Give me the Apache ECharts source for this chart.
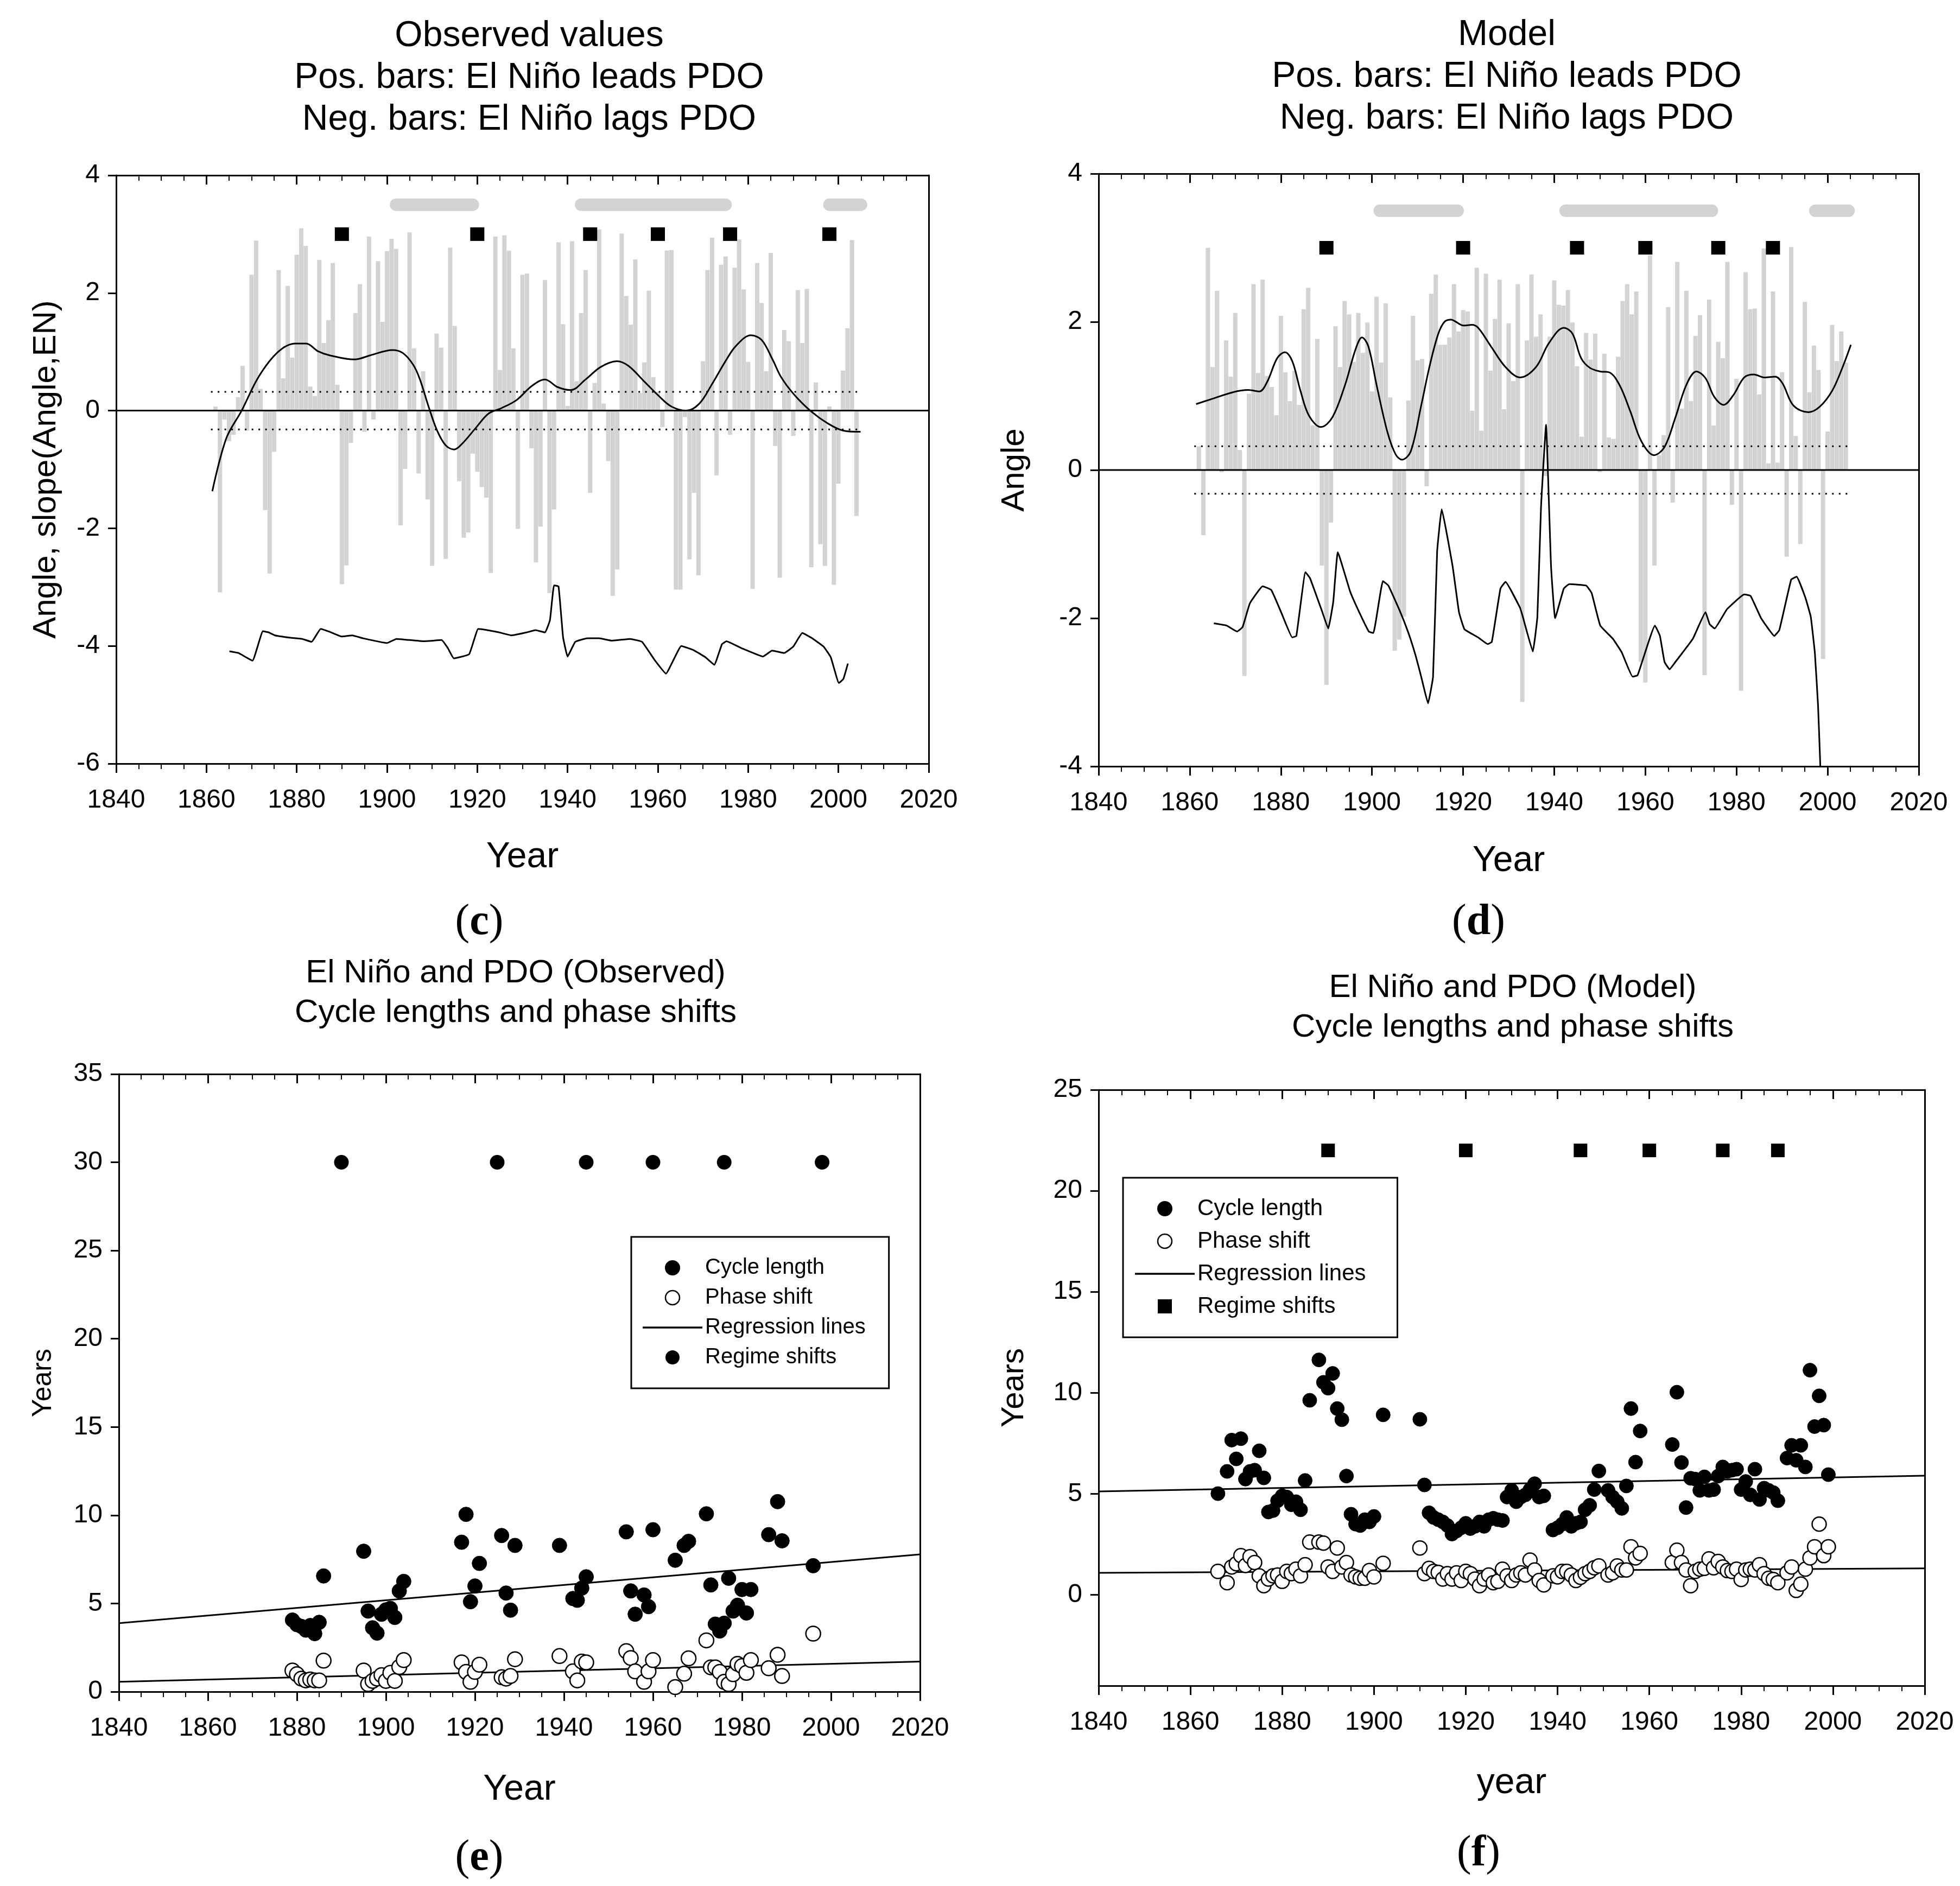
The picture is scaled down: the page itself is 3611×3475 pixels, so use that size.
<!DOCTYPE html>
<html>
<head>
<meta charset="utf-8">
<script src="https://cdn.jsdelivr.net/npm/echarts@6/dist/echarts.min.js"></script>
<style>
html, body { margin: 0; padding: 0; background: #fff; }
#main { width: 3611px; height: 3475px; }
</style>
</head>
<body>
<div id="main"></div>
<script>
// El Nino / PDO figure, panels (c) (d) (e) (f)
var FONT = 'Liberation Sans, Arial, sans-serif';
var SERIF = 'Liberation Serif, Times New Roman, serif';
var GRAY = '#d3d3d3';

// ---------- (c) observed ----------
var cBarStart = 1862;
var cBars = [0.07,-3.09,-0.15,-0.52,-0.41,0.23,0.76,-0.34,2.31,2.89,
    0.37,-1.69,-2.77,-0.70,2.39,0.55,2.12,0.90,2.65,3.10,
    2.80,0.41,0.25,2.56,1.15,1.54,2.51,0.44,-2.95,-2.63,
    -0.55,1.66,2.15,-0.36,2.96,-0.15,2.54,1.51,2.71,2.92,
    2.75,-1.95,-0.99,3.03,1.06,-1.07,0.67,-1.51,-2.64,1.31,
    1.07,-2.52,2.77,1.44,-1.20,-2.16,-2.07,-0.73,-1.04,-1.30,
    -1.48,-2.76,2.96,0.69,2.98,2.72,1.06,-2.01,2.31,2.33,
    -0.64,-2.58,-1.97,2.22,-3.10,-1.68,2.86,1.47,0.08,2.88,
    0.50,1.66,2.39,-1.40,0.47,3.08,0.12,-0.86,-3.15,-2.70,
    3.01,1.95,1.46,2.57,0.30,0.82,2.04,0.57,0.32,-0.28,
    2.72,2.73,-3.04,-3.04,-0.11,-2.53,-1.40,-2.80,0.84,2.39,
    2.94,-1.10,2.48,2.62,-0.41,2.43,2.91,2.06,0.83,-3.03,
    2.51,1.83,0.67,2.68,-0.60,-2.84,1.37,1.18,-0.43,2.05,
    1.15,2.07,-2.66,0.48,-2.27,-2.64,0.07,-2.96,-1.24,0.68,
    1.40,2.90,-1.79];
var cSmoothYears = [1861.3,1864.4,1867.8,1871.6,1875.9,1879.7,1882.1,1884.7,1887.3,1892.8,
    1896.3,1901.2,1903.5,1905.8,1907.3,1909.2,1911.1,1913,1914.9,1916.8,
    1919.6,1922.5,1925.3,1928.7,1932.1,1935,1937.8,1940.7,1944,1947.3,
    1950.9,1953.5,1956.8,1960.2,1963,1966.3,1969.2,1972,1974.9,1977.3,
    1980.6,1983,1985.4,1987.3,1990.1,1993.9,1997.7,2001.1,2004.9];
var cSmoothValues = [-1.37,-0.47,0.0,0.58,1.0,1.14,1.14,1.01,0.94,0.87,
    0.94,1.03,0.98,0.78,0.53,0.07,-0.34,-0.59,-0.66,-0.55,
    -0.30,-0.05,0.04,0.18,0.42,0.53,0.40,0.35,0.53,0.74,
    0.84,0.76,0.51,0.25,0.07,0.0,0.12,0.45,0.83,1.10,
    1.28,1.20,0.87,0.57,0.28,-0.01,-0.22,-0.34,-0.36];
var cSlopeYears = [1865.1,1867.1,1870.2,1872.5,1873.8,1875.2,1878.6,1881.2,1883.3,1885.3,
    1887.3,1890,1892.3,1894.7,1900,1902.1,1908.1,1912.1,1913.5,1914.8,
    1918.2,1920.2,1922.2,1924.9,1927.6,1930.9,1932.9,1935,1936.1,1937,
    1938,1939,1940,1941.7,1944.4,1947,1949.8,1953.8,1956.5,1959.2,
    1961.8,1965.2,1967.9,1970.5,1972.5,1974.2,1975.2,1978.6,1983.3,1985.3,
    1988,1990,1992,1994,1996.7,1998.3,2000.1,2001.1,2002.1];
var cSlopeValues = [-4.09,-4.12,-4.25,-3.75,-3.77,-3.82,-3.86,-3.88,-3.93,-3.71,
    -3.76,-3.84,-3.82,-3.87,-3.95,-3.88,-3.92,-3.90,-4.04,-4.21,
    -4.14,-3.71,-3.73,-3.77,-3.82,-3.77,-3.73,-3.77,-3.56,-2.97,
    -2.99,-3.85,-4.18,-3.93,-3.87,-3.87,-3.91,-3.88,-3.93,-4.23,
    -4.47,-4.00,-4.07,-4.19,-4.32,-3.97,-3.92,-4.04,-4.18,-4.08,
    -4.12,-4.01,-3.78,-3.86,-4.01,-4.19,-4.63,-4.56,-4.30];
var cShiftYears = [1890, 1920, 1945, 1960, 1976, 1998];
var cBandStarts = [1902, 1943, 1998];
var cBandEnds = [1919, 1975, 2005];

// ---------- (d) model ----------
var dBarStart = 1862;
var dBars = [0.32,-0.88,3.00,1.39,2.42,-0.03,1.75,1.26,2.12,0.27,
    -2.78,1.03,2.51,1.31,2.57,1.27,1.12,0.74,2.08,1.32,
    0.93,1.34,0.88,2.17,2.46,0.60,1.77,-1.29,-2.90,-0.71,
    1.94,1.39,2.28,2.10,1.46,2.12,1.58,1.99,1.06,2.34,
    1.45,2.25,0.98,-2.44,-2.29,-1.98,0.94,2.08,1.48,1.50,
    -0.22,2.38,2.64,1.69,1.69,1.79,2.51,1.87,2.16,2.14,
    0.80,2.73,0.53,2.65,1.34,2.04,2.57,0.82,1.98,1.20,
    2.51,-3.13,1.75,2.64,1.80,2.10,-0.08,1.80,2.56,2.23,
    2.22,2.43,1.99,1.40,0.45,1.85,1.49,1.84,-0.03,1.57,
    0.44,0.42,1.53,2.28,2.51,2.10,2.41,-2.59,-2.87,2.90,
    -1.29,0.20,0.47,2.20,-0.44,2.81,0.83,2.42,0.93,1.81,
    2.09,-2.77,2.30,0.60,1.73,1.51,2.81,-0.47,1.23,-2.98,
    2.67,2.17,2.18,1.02,2.99,0.09,2.41,0.10,1.32,-1.17,
    3.01,0.46,-1.00,2.27,1.05,1.68,1.35,-2.55,0.52,1.96,
    1.47,1.87,1.45];
var dSmoothYears = [1861.4,1864.4,1869.5,1872.8,1875.3,1877,1879.2,1880.9,1882.5,1884.3,
    1886.2,1888.8,1891.3,1894.1,1896.4,1897.8,1899.2,1901,1903.4,1905.2,
    1906.6,1908.5,1910.8,1912.6,1914.5,1915.9,1917.3,1920.1,1921.9,1923.3,
    1926.1,1929.3,1932.5,1936,1938.8,1942.1,1944,1945.9,1947.8,1950.1,
    1952,1954.3,1956.7,1959.1,1961.9,1964.2,1966.6,1969,1971.2,1973.2,
    1975.1,1977.2,1979.3,1981.7,1983.8,1986.1,1988.5,1990.1,1992.5,1995.8,
    1998.2,2001,2003.3,2005.1];
var dSmoothValues = [0.89,0.95,1.05,1.08,1.06,1.19,1.51,1.59,1.47,1.07,
    0.73,0.58,0.71,1.15,1.63,1.79,1.67,1.15,0.51,0.21,
    0.14,0.25,0.87,1.39,1.83,2.00,2.03,1.95,1.96,1.92,
    1.67,1.39,1.25,1.39,1.71,1.92,1.84,1.51,1.38,1.33,
    1.32,1.15,0.79,0.39,0.20,0.31,0.71,1.15,1.33,1.24,
    0.99,0.88,1.01,1.25,1.29,1.25,1.26,1.17,0.87,0.78,
    0.85,1.07,1.39,1.69];
var dSlopeYears = [1865.3,1868.1,1870.4,1871.6,1873.2,1876,1877.9,1880.2,1882.5,1883.4,
    1885.4,1886.4,1889,1890.4,1891.5,1892.5,1895.2,1896.9,1899.3,1900.3,
    1902.4,1903.6,1906.1,1908,1909.6,1910.8,1912.3,1913.4,1914.3,1915.3,
    1917.7,1919.1,1920.3,1923.3,1925.4,1926.3,1928.2,1929.3,1932.5,1933.1,
    1935.3,1936.3,1937.1,1938.2,1939.3,1940.2,1942.1,1943.3,1947,1948.2,
    1950.1,1952.9,1954.8,1957.2,1958.3,1962.1,1963.2,1964.2,1965.3,1966.6,
    1970.4,1973.2,1974.1,1975.2,1977.9,1981.7,1983.1,1985.4,1988.3,1989.4,
    1992,1993.2,1995.1,1996.3,1997.2,1997.9,1998.4,1998.8];
var dSlopeValues = [-2.07,-2.10,-2.18,-2.12,-1.80,-1.57,-1.62,-1.94,-2.26,-2.24,
    -1.38,-1.46,-1.90,-2.14,-1.78,-1.11,-1.64,-1.88,-2.18,-2.20,
    -1.50,-1.56,-1.90,-2.20,-2.51,-2.79,-3.15,-2.79,-1.10,-0.53,
    -1.30,-1.92,-2.15,-2.26,-2.35,-2.32,-1.60,-1.51,-1.86,-1.98,
    -2.45,-1.98,-0.50,0.61,-1.30,-2.00,-1.60,-1.54,-1.56,-1.66,
    -2.10,-2.28,-2.46,-2.79,-2.77,-2.10,-2.24,-2.59,-2.69,-2.59,
    -2.28,-1.92,-2.08,-2.14,-1.88,-1.68,-1.70,-2.00,-2.24,-2.16,
    -1.48,-1.44,-1.72,-1.98,-2.47,-3.18,-4.0,-4.8];
var dShiftYears = [1890, 1920, 1945, 1960, 1976, 1988];
var dBandStarts = [1901.7, 1942.5, 1997.3];
var dBandEnds = [1918.8, 1974.6, 2004.6];

var bandLevel = 3.5;
var shiftLevel = 3;
var limitLevel = 0.32;
var limitYears = [1861, 2005];

// ---------- (e) observed cycles ----------
var eYears = [1879,1880,1881,1882,1883,1884,1885,1886,
    1895,1896,1897,1898,1899,1900,1901,1902,1903,1904,
    1917,1918,1919,1920,1921,
    1926,1927,1928,1929,
    1939,
    1942,1943,1944,1945,
    1954,1955,1956,1958,1959,1960,
    1965,1967,1968,
    1972,1973,1974,1975,1976,1977,1978,1979,1980,1981,1982,
    1986,1988,1989,
    1996];
var eCycle = [4.06,3.80,3.70,3.49,3.75,3.29,3.93,6.56,
    7.96,4.57,3.62,3.32,4.39,4.64,4.72,4.21,5.71,6.25,
    8.47,10.05,5.10,5.99,7.27,
    8.85,5.59,4.62,8.29,
    8.29,
    5.28,5.18,5.87,6.51,
    9.06,5.71,4.39,5.48,4.82,9.18,
    7.45,8.29,8.52,
    10.08,6.05,3.83,3.44,3.88,6.43,4.57,4.90,5.79,4.46,5.79,
    8.90,10.77,8.55,
    7.14];
var ePhase = [1.20,0.99,0.74,0.64,0.69,0.64,0.64,1.76,
    1.20,0.43,0.61,0.74,0.94,0.61,1.07,0.61,1.40,1.79,
    1.66,1.12,0.56,1.12,1.53,
    0.82,0.74,0.89,1.84,
    2.02,
    1.15,0.64,1.71,1.66,
    2.30,1.91,1.15,0.56,1.15,1.79,
    0.26,1.02,1.89,
    2.91,1.38,1.38,1.12,0.56,0.43,0.99,1.58,1.45,1.07,1.79,
    1.33,2.09,0.89,
    3.29];
var eShiftYears = [1890, 1925, 1945, 1960, 1976, 1998];
var eShiftLevel = 30;
var fitYears = [1840, 2020];
var eCycleFit = [3.88, 7.78];
var ePhaseFit = [0.56, 1.71];

// ---------- (f) model cycles ----------
var fYears = [1866,1868,1869,1870,1871,1872,1873,1874,1875,1876,1877,1878,1879,1880,1881,1882,1883,1884,1885,1886,
    1888,1889,1890,1891,1892,1893,1894,1895,1896,1897,1898,1899,1900,
    1902,
    1910,1911,1912,1913,1914,1915,1916,1917,1918,1919,1920,1921,1922,1923,1924,1925,1926,1927,1928,1929,1930,1931,1932,1933,1934,1935,1936,1937,
    1939,1940,1941,1942,1943,1944,1945,1946,1947,1948,1949,
    1951,1952,1953,1954,1955,1956,1957,1958,
    1965,1966,1967,1968,1969,1970,1971,1972,1973,1974,1975,1976,1977,1978,1979,1980,1981,1982,1983,1984,1985,1986,1987,1988,
    1990,1991,1992,1993,1994,1995,1996,1997,1998,1999];
var fCycle = [5.01,6.11,7.66,6.73,7.73,5.73,6.11,6.17,7.13,5.79,4.10,4.17,4.66,4.90,4.84,4.46,4.61,4.21,5.66,9.63,
    11.63,10.52,10.23,10.96,9.22,8.67,5.88,3.99,3.50,3.43,3.72,3.61,3.88,
    8.91,
    8.69,5.44,4.06,3.83,3.72,3.61,3.43,3.01,3.16,3.32,3.54,3.28,3.39,3.61,3.39,3.72,3.79,3.72,3.68,4.84,5.17,4.61,4.84,4.95,5.21,5.50,4.84,4.90,
    3.21,3.32,3.50,3.83,3.39,3.54,3.61,4.21,4.43,5.21,6.13,
    5.17,4.84,4.61,4.28,5.39,9.22,6.57,8.11,
    7.44,10.03,6.55,4.32,5.77,5.73,5.17,5.84,5.17,5.21,5.88,6.33,6.11,6.17,6.22,5.21,5.61,4.95,6.22,4.72,5.28,5.17,5.06,4.66,
    6.77,7.40,6.66,7.40,6.33,11.12,8.33,9.85,8.40,5.95];
var fPhase = [1.16,0.60,1.38,1.54,1.94,1.45,1.89,1.60,0.94,0.45,0.78,0.94,0.98,0.67,1.16,1.05,1.27,0.94,1.49,2.61,
    2.61,2.56,1.38,1.16,2.32,1.38,1.60,0.98,0.89,0.82,0.82,1.20,0.89,
    1.56,
    2.32,1.05,1.31,1.16,1.11,0.78,1.05,0.78,1.09,0.71,1.16,1.05,0.78,0.45,0.78,0.98,0.60,0.67,1.27,0.94,0.71,0.98,1.09,0.98,1.72,1.23,0.71,0.49,
    0.94,0.89,1.16,1.16,0.98,0.71,0.87,1.05,1.16,1.34,1.43,
    0.98,1.09,1.43,1.23,1.23,2.38,1.83,2.05,
    1.60,2.21,1.60,1.23,0.45,1.16,1.27,1.31,1.78,1.34,1.65,1.38,1.20,1.16,1.27,0.76,1.23,1.27,1.23,1.49,1.05,0.82,0.76,0.60,
    1.09,1.38,0.22,0.53,1.27,1.83,2.38,3.50,1.94,2.38];
var fShiftYears = [1890, 1920, 1945, 1960, 1976, 1988];
var fShiftLevel = 22;
var fCycleFit = [5.12, 5.90];
var fPhaseFit = [1.09, 1.31];

var yearTicks = [1840, 2020];
var fYearLabels = [0, 5, 10, 15, 20, 25];

// ---------- helpers ----------
function pairs(xs, ys) {
    var out = [];
    for (var i = 0; i < xs.length; i++) out.push([xs[i], ys[i]]);
    return out;
}
function fromStart(start, ys) {
    var out = [];
    for (var i = 0; i < ys.length; i++) out.push([start + i, ys[i]]);
    return out;
}
function level(xs, v) {
    return xs.map(function (x) { return [x, v]; });
}

function xBottom(gi, name, gap) {
    return {
        type: 'value', gridIndex: gi, position: 'bottom',
        min: yearTicks[0], max: yearTicks[1], interval: 20,
        name: name, nameLocation: 'middle', nameGap: gap,
        nameTextStyle: { fontSize: 66, color: '#000', fontFamily: FONT },
        axisLine: { show: true, onZero: false, lineStyle: { color: '#000', width: 3 } },
        axisTick: { show: true, length: 17, lineStyle: { color: '#000', width: 3 } },
        minorTick: { show: true, splitNumber: 4, length: 10, lineStyle: { color: '#000', width: 2 } },
        axisLabel: { fontSize: 48, color: '#000', margin: 44, fontFamily: FONT,
            formatter: function (v) { return String(v); } },
        splitLine: { show: false }
    };
}
function xTop(gi) {
    return {
        type: 'value', gridIndex: gi, position: 'top',
        min: yearTicks[0], max: yearTicks[1], interval: 20,
        axisLine: { show: true, onZero: false, lineStyle: { color: '#000', width: 3 } },
        axisTick: { show: true, inside: true, length: 17, lineStyle: { color: '#000', width: 3 } },
        minorTick: { show: true, splitNumber: 4, length: 10, lineStyle: { color: '#000', width: 2 } },
        axisLabel: { show: false },
        splitLine: { show: false }
    };
}
function yLeft(gi, opts) {
    var ax = {
        type: 'value', gridIndex: gi, position: 'left',
        min: opts.min, max: opts.max,
        name: opts.name, nameLocation: 'middle', nameRotate: 90, nameGap: opts.gap,
        nameTextStyle: { fontSize: opts.nameSize, color: '#000', fontFamily: FONT },
        axisLine: { show: true, onZero: false, lineStyle: { color: '#000', width: 3 } },
        axisTick: { show: true, length: 15, lineStyle: { color: '#000', width: 3 } },
        axisLabel: { fontSize: 48, color: '#000', margin: 30, fontFamily: FONT },
        splitLine: { show: false }
    };
    if (opts.interval) ax.interval = opts.interval;
    if (opts.labels) {
        ax.axisLabel.customValues = opts.labels;
        ax.axisTick.customValues = opts.labels;
    }
    return ax;
}
function yRight(gi, min, max) {
    return {
        type: 'value', gridIndex: gi, position: 'right', min: min, max: max,
        axisLine: { show: true, onZero: false, lineStyle: { color: '#000', width: 3 } },
        axisTick: { show: false }, axisLabel: { show: false }, splitLine: { show: false }
    };
}

function lineSeries(gi, data, opts) {
    return {
        type: 'line', xAxisIndex: gi * 2, yAxisIndex: gi * 2,
        name: opts.name, data: data, symbol: 'none', smooth: opts.smooth || false,
        silent: true, z: opts.z || 3,
        itemStyle: { color: opts.color || '#000' },
        lineStyle: { color: opts.color || '#000', width: opts.width || 3,
            type: opts.type || 'solid', cap: opts.cap || 'butt' }
    };
}
function scatterSeries(gi, name, data, symbol, size, style) {
    style.opacity = 1;
    return {
        type: 'scatter', xAxisIndex: gi * 2, yAxisIndex: gi * 2, name: name,
        data: data, symbol: symbol, symbolSize: size, silent: true, z: 5,
        itemStyle: style
    };
}

// panels (c) and (d): bars, bands, regime shift squares, limits, curves
function anglePanel(gi, barStart, bars, bandStarts, bandEnds, shiftYears, smoothX, smoothY, slopeX, slopeY) {
    var list = [{
        type: 'bar', xAxisIndex: gi * 2, yAxisIndex: gi * 2, silent: true, z: 1,
        data: fromStart(barStart, bars), barWidth: 8,
        itemStyle: { color: GRAY }
    }];
    for (var i = 0; i < bandStarts.length; i++) {
        list.push(lineSeries(gi, level([bandStarts[i], bandEnds[i]], bandLevel),
            { color: GRAY, width: 23, cap: 'round', z: 2 }));
    }
    list.push(scatterSeries(gi, null, level(shiftYears, shiftLevel), 'rect', [26, 25], { color: '#000' }));
    list.push(lineSeries(gi, level(limitYears, limitLevel), { type: [3, 9.5], width: 3 }));
    list.push(lineSeries(gi, level(limitYears, -limitLevel), { type: [3, 9.5], width: 3 }));
    list.push(lineSeries(gi, level(yearTicks, 0), { width: 3 }));
    list.push(lineSeries(gi, pairs(smoothX, smoothY), { smooth: 0.35, width: 3, z: 4 }));
    list.push(lineSeries(gi, pairs(slopeX, slopeY), { smooth: 0.1, width: 3, z: 4 }));
    return list;
}

// panels (e) and (f): cycle lengths, phase shifts, regression lines, regime shifts
function cyclePanel(gi, years, cycle, phase, shiftYears, shiftLevelV, shiftSymbol, cycleFit, phaseFit, size) {
    return [
        lineSeries(gi, pairs(fitYears, cycleFit), { name: 'Regression lines', width: 3 }),
        lineSeries(gi, pairs(fitYears, phaseFit), { name: 'Regression lines', width: 3 }),
        scatterSeries(gi, 'Cycle length', pairs(years, cycle), 'circle', size,
            { color: '#000', borderColor: '#000', borderWidth: 1 }),
        scatterSeries(gi, 'Phase shift', pairs(years, phase), 'circle', size,
            { color: '#fff', borderColor: '#000', borderWidth: 2.5 }),
        scatterSeries(gi, 'Regime shifts', level(shiftYears, shiftLevelV), shiftSymbol,
            shiftSymbol === 'rect' ? [25, 25] : size, { color: '#000' })
    ];
}

function legendBox(left, top, pad, gap, fontSize, shiftIcon) {
    return {
        orient: 'vertical', left: left, top: top, padding: pad,
        itemWidth: 110, itemHeight: 26, itemGap: gap, selectedMode: false,
        borderColor: '#000', borderWidth: 3, backgroundColor: '#fff',
        textStyle: { fontSize: fontSize, lineHeight: 40, color: '#000', fontFamily: FONT },
        data: [
            { name: 'Cycle length', icon: 'circle', itemStyle: { color: '#000', opacity: 1 } },
            { name: 'Phase shift', icon: 'circle',
              itemStyle: { color: '#fff', borderColor: '#000', borderWidth: 2.5, opacity: 1 } },
            { name: 'Regression lines', icon: 'path://M0,0L100,0L100,3L0,3Z',
              itemStyle: { color: '#000', borderWidth: 0, opacity: 1 } },
            { name: 'Regime shifts', icon: shiftIcon, itemStyle: { color: '#000', opacity: 1 } }
        ]
    };
}

function titleText(text, x, y, size, lh) {
    return {
        text: text, left: x, top: y, textAlign: 'center', padding: 0,
        textStyle: { fontSize: size, lineHeight: lh, fontWeight: 'normal',
            color: '#000', fontFamily: FONT }
    };
}
function panelTag(letter, x, y) {
    return {
        text: '{p|(}{b|' + letter + '})' .replace('})', '}{p|)}'),
        left: x, top: y, textAlign: 'center', padding: 0,
        textStyle: {
            rich: {
                p: { fontSize: 80, fontFamily: SERIF, fontWeight: 'normal', color: '#000' },
                b: { fontSize: 80, fontFamily: SERIF, fontWeight: 'bold', color: '#000' }
            }
        }
    };
}

var series = []
    .concat(anglePanel(0, cBarStart, cBars, cBandStarts, cBandEnds, cShiftYears,
        cSmoothYears, cSmoothValues, cSlopeYears, cSlopeValues))
    .concat(anglePanel(1, dBarStart, dBars, dBandStarts, dBandEnds, dShiftYears,
        dSmoothYears, dSmoothValues, dSlopeYears, dSlopeValues))
    .concat(cyclePanel(2, eYears, eCycle, ePhase, eShiftYears, eShiftLevel, 'circle',
        eCycleFit, ePhaseFit, 27))
    .concat(cyclePanel(3, fYears, fCycle, fPhase, fShiftYears, fShiftLevel, 'rect',
        fCycleFit, fPhaseFit, 26));

var chart = echarts.init(document.getElementById('main'));
chart.setOption({
    animation: false,
    backgroundColor: '#fff',
    title: [
        titleText('Observed values\nPos. bars: El Niño leads PDO\nNeg. bars: El Niño lags PDO', 975, 28, 66, 77),
        titleText('Model\nPos. bars: El Niño leads PDO\nNeg. bars: El Niño lags PDO', 2776, 26, 66, 77),
        titleText('El Niño and PDO (Observed)\nCycle lengths and phase shifts', 950, 1757, 60, 73),
        titleText('El Niño and PDO (Model)\nCycle lengths and phase shifts', 2787, 1784, 60, 73),
        panelTag('c', 883, 1660),
        panelTag('d', 2724, 1660),
        panelTag('e', 883, 3384),
        panelTag('f', 2724, 3376)
    ],
    legend: [
        legendBox(1163, 2279, [37, 43, 37, 21], 15, 40, 'circle'),
        legendBox(2069, 2170, [36, 58, 36, 22], 18, 42, 'path://M0,0L10,0L10,10L0,10Z')
    ],
    grid: [
        { left: 214, top: 323, width: 1497, height: 1084 },
        { left: 2024, top: 320, width: 1511, height: 1092 },
        { left: 219, top: 1979, width: 1476, height: 1138 },
        { left: 2024, top: 2008, width: 1522, height: 1098 }
    ],
    xAxis: [
        xBottom(0, 'Year', 140), xTop(0),
        xBottom(1, 'Year', 142), xTop(1),
        xBottom(2, 'Year', 148), xTop(2),
        xBottom(3, 'year', 147), xTop(3)
    ],
    yAxis: [
        yLeft(0, { min: -6, max: 4, interval: 2, name: 'Angle, slope(Angle,EN)', gap: 99, nameSize: 60 }), yRight(0, -6, 4),
        yLeft(1, { min: -4, max: 4, interval: 2, name: 'Angle', gap: 125, nameSize: 60 }), yRight(1, -4, 4),
        yLeft(2, { min: 0, max: 35, interval: 5, name: 'Years', gap: 114, nameSize: 50 }), yRight(2, 0, 35),
        yLeft(3, { min: -4.5, max: 25, labels: fYearLabels, name: 'Years', gap: 126, nameSize: 58 }), yRight(3, -4.5, 25)
    ],
    series: series
});
</script>
</body>
</html>
